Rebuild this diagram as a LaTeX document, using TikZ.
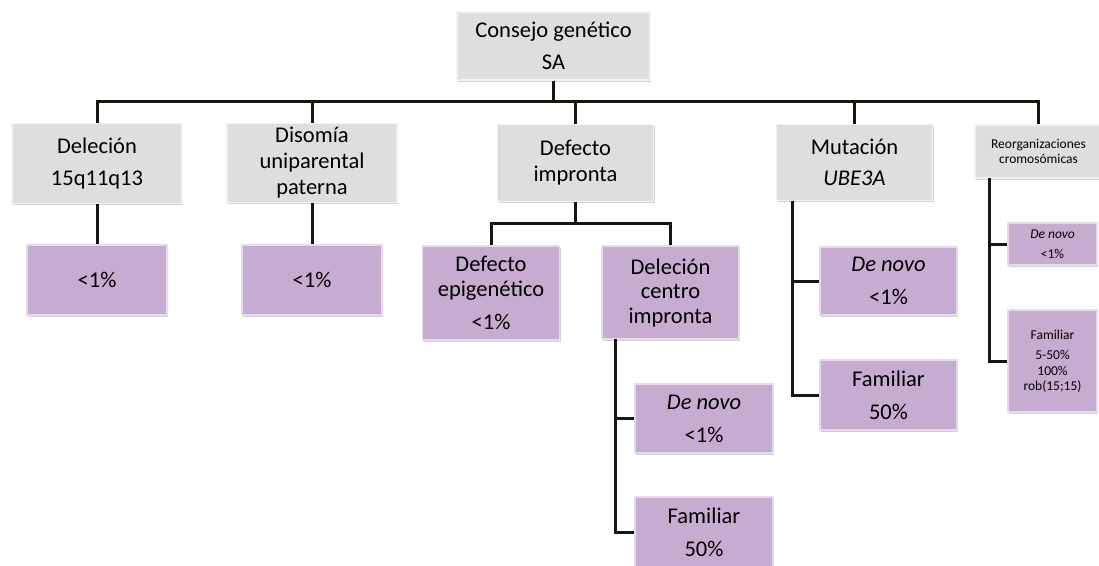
\documentclass[tikz,border=0pt]{standalone}
\usepackage{fontspec}
\setmainfont{Carlito}
\usetikzlibrary{shadows}
\definecolor{boxgray}{RGB}{222,222,222}
\definecolor{boxpurple}{RGB}{199,172,210}
\definecolor{linedark}{RGB}{22,22,14}
\tikzset{
  base/.style={rectangle, inner sep=0pt, align=center, anchor=center,
    font=\fontsize{22.5}{26}\selectfont,
    drop shadow={opacity=0.35, shadow xshift=1.2pt, shadow yshift=-1.8pt}},
  graybox/.style={base, fill=boxgray, draw=boxgray!40!white, line width=1.2pt},
  purplebox/.style={base, fill=boxpurple, draw=boxpurple!45!white, line width=1.2pt},
  small/.style={font=\fontsize{13.5}{15.5}\selectfont},
  conn/.style={draw=linedark, line width=3pt}
}
\begin{document}
\begin{tikzpicture}[x=1pt, y=-1pt]
\useasboundingbox (0,0) rectangle (1099,565);
\clip (0,0) rectangle (1099,565);
% level 0
\node[graybox, minimum width=193pt, minimum height=68pt] (top) at (553.5,46) {Consejo genético\\[6pt]SA};
% level 1
\node[graybox, minimum width=170pt, minimum height=80pt] (b1) at (97,163.5) {Deleción\\[6pt]15q11q13};
\node[graybox, minimum width=170pt, minimum height=79pt] (b2) at (312,163) {Disomía\\uniparental\\paterna};
\node[graybox, minimum width=156pt, minimum height=77pt] (b3) at (575.5,163) {Defecto\\impronta};
\node[graybox, minimum width=156pt, minimum height=76pt] (b4) at (854.5,162.5) {Mutación\\[5pt]\textit{UBE3A}};
\node[graybox, small, minimum width=127pt, minimum height=53pt] (b5) at (1038.5,151.5) {Reorganizaciones\\[-1pt]cromosómicas};
% level 2
\node[purplebox, minimum width=140pt, minimum height=70pt] (p1) at (97,280) {<1\%};
\node[purplebox, minimum width=140pt, minimum height=70pt] (p2) at (312,280) {<1\%};
\node[purplebox, minimum width=137pt, minimum height=94pt] (p3a) at (491,293) {Defecto\\[-1pt]epigenético\\[7pt]<1\%};
\node[purplebox, minimum width=137pt, minimum height=93pt] (p3b) at (670.5,292.5) {Deleción\\[-2pt]centro\\[-1pt]impronta};
\node[purplebox, minimum width=138pt, minimum height=69pt] (c1) at (704,418.5) {\textit{De novo}\\[7pt]<1\%};
\node[purplebox, minimum width=138pt, minimum height=70pt] (c2) at (704,532) {Familiar\\[7pt]50\%};
\node[purplebox, minimum width=137pt, minimum height=68pt] (m1) at (888.5,281) {\textit{De novo}\\[7pt]<1\%};
\node[purplebox, minimum width=137pt, minimum height=70pt] (m2) at (888.5,395) {Familiar\\[7pt]50\%};
\node[purplebox, small, minimum width=89pt, minimum height=42pt] (e1) at (1052.5,244) {\textit{De novo}\\[4pt]<1\%};
\node[purplebox, small, minimum width=89pt, minimum height=102pt] (e2) at (1052.5,361) {Familiar\\[4pt]5-50\%\\[1pt]100\%\\[-1pt]rob(15;15)};
% connectors
\coordinate (bar) at (553.5,101);
\coordinate (bar3) at (575.5,223);
\coordinate (r3) at (615,339);
\coordinate (r4) at (792,200.5);
\coordinate (r5) at (989,178);
\foreach \n in {b1,b2,b3,b4,b5}
  \draw[conn] (top.south) |- (\n.north |- bar) -- (\n.north);
\draw[conn] (b1.south) -- (p1.north);
\draw[conn] (b2.south) -- (p2.north);
\draw[conn] (b3.south) |- (p3a.north |- bar3) -- (p3a.north);
\draw[conn] (b3.south) |- (p3b.north |- bar3) -- (p3b.north);
\draw[conn] (r3) |- (c1.west);
\draw[conn] (r3) |- (c2.west);
\draw[conn] (r4) |- (m1.west);
\draw[conn] (r4) |- (m2.west);
\draw[conn] (r5) |- (e1.west);
\draw[conn] (r5) |- (e2.west);
\end{tikzpicture}
\end{document}
